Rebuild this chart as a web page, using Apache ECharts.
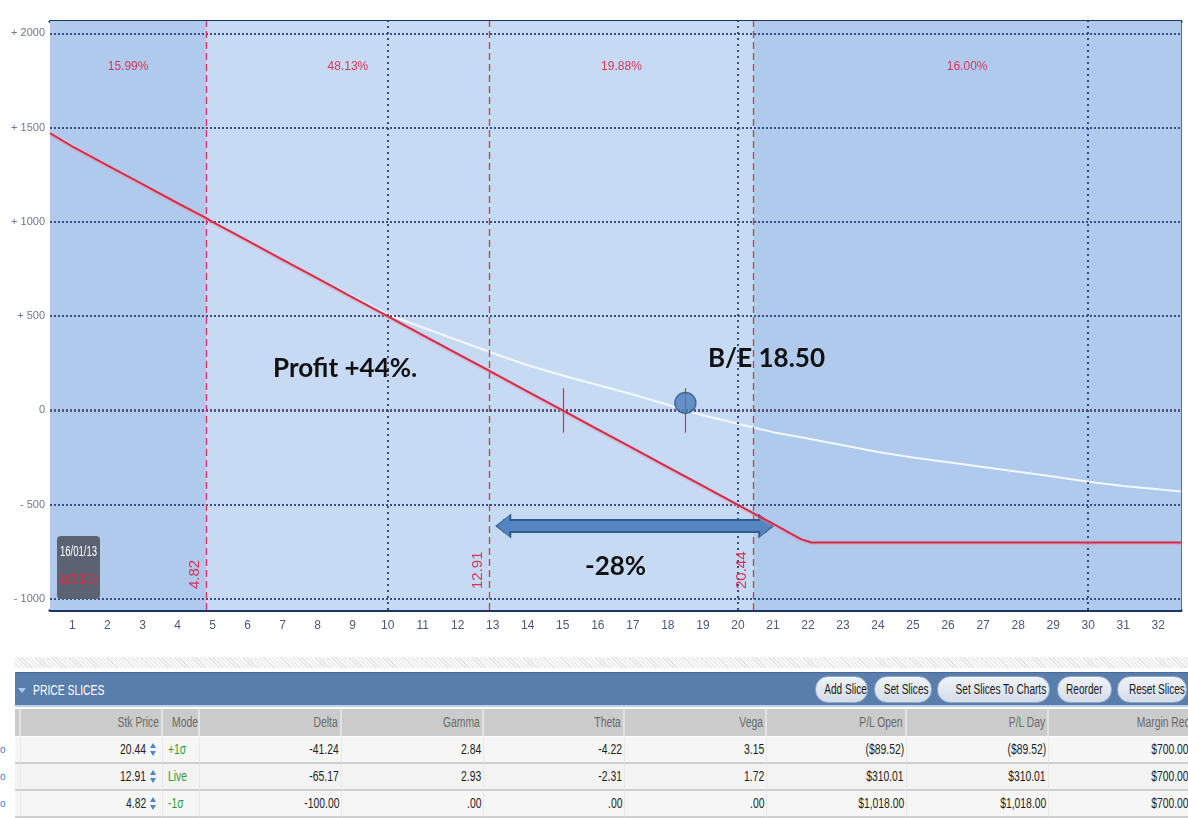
<!DOCTYPE html>
<html>
<head>
<meta charset="utf-8">
<script src="https://cdn.jsdelivr.net/npm/echarts@6/dist/echarts.min.js"></script>
<style>
  html, body { margin: 0; padding: 0; background: #ffffff; }
  body { width: 1188px; height: 818px; overflow: hidden; position: relative;
         font-family: "Liberation Sans", Arial, sans-serif; }
  #chart { position: absolute; left: 0; top: 0; width: 1188px; height: 650px; }
  .abs { position: absolute; box-sizing: border-box; white-space: nowrap; overflow: hidden; }
  .t { display: inline-block; transform: scaleX(0.74); transform-origin: right center; }
  #hatch { left: 15px; top: 657px; width: 1173px; height: 11px;
           background: repeating-linear-gradient(45deg, #e4e4e4 0 1px, #f8f8f8 1px 3px); }
  #bar { left: 15px; top: 672px; width: 1173px; height: 35px; background: #5a7eac;
         border-top: 1px solid #47689a; border-bottom: 2px solid #bcd2ea; }
  #barTitle { left: 33px; top: 680px; color: #ffffff; font-size: 14px; line-height: 20px; }
  #barTitle .t { transform-origin: left center; }
  #barTri { left: 18px; top: 688px; width: 0; height: 0; border-left: 4px solid transparent;
            border-right: 4px solid transparent; border-top: 5px solid #a9c9ef; overflow: visible; }
  .btn { top: 676px; height: 27px; border-radius: 13px; border: 1px solid #93a8c6;
         background: linear-gradient(#f0f4f9, #d3dce8); color: #1b1b1b; font-size: 14px;
         line-height: 25px; text-align: center; overflow: visible; }
  .btn .t { transform: scaleX(0.72); transform-origin: center center; }
  .hdr { background: #cbcbcb; color: #6a6a6a; font-size: 14px; line-height: 27px;
         border-right: 2px solid #e2e2e2; padding-right: 2px; text-align: right; }
  .cell { color: #1e1e1e; font-size: 14px; line-height: 25px; text-align: right; padding-right: 2px;
          border-right: 1px solid #e9e9e9; border-bottom: 2px solid #cfcfcf; }
  .cell.mode .t { transform-origin: left center; }
  .dot { color: #3f7fc8; font-size: 10px; line-height: 25px; overflow: visible; }
  .spin { width: 8px; height: 16px; overflow: visible; }
  .spin .u { position: absolute; left: 1px; top: 2px; width: 0; height: 0; border-left: 3px solid transparent;
             border-right: 3px solid transparent; border-bottom: 5px solid #4d86c6; }
  .spin .d { position: absolute; left: 1px; top: 10px; width: 0; height: 0; border-left: 3px solid transparent;
             border-right: 3px solid transparent; border-top: 5px solid #4d86c6; }
</style>
</head>
<body>
<div id="chart"></div>
<div id="table"></div>
<script>
// ---------------- DATA ----------------
const xTicks = [1,2,3,4,5,6,7,8,9,10,11,12,13,14,15,16,17,18,19,20,21,22,23,24,25,26,27,28,29,30,31,32];
const yTicks = [-1000,-500,0,500,1000,1500,2000];
const xGridLines = [10,20,30];
const sliceStrikes = [4.82, 12.91, 20.44];
const slicePct = ['15.99%','48.13%','19.88%','16.00%'];
// P/L at expiration (red)
const expiryPL = [[0.36,1470],[1,1400],[2,1300],[3,1200],[4,1100],[4.82,1020],[5,1000],[6,900],[7,800],[8,700],
  [9,600],[10,500],[11,400],[12,300],[12.91,210],[13,200],[14,100],[15,0],[16,-100],[17,-200],[18,-300],
  [19,-400],[20,-500],[20.44,-545],[21,-600],[21.5,-652],[21.8,-682],[22.1,-700],[24,-700],[28,-700],[32.65,-700]];
// P/L today (white)
const todayPL = [[0.36,1470],[2,1300],[4,1100],[6,900],[8,700],[9,605],[10,510],[11,440],[11.77,388],[12.91,310],
  [14,240],[15,185],[16,135],[17,85],[18,30],[18.5,0],[19,-25],[20,-70],[20.44,-90],[21,-115],[21.8,-142],
  [23,-185],[24,-220],[25,-250],[26,-275],[27,-300],[28,-325],[29,-350],[30,-378],[31,-400],[32,-418],[32.65,-430]];
const zeroMarks = [15, 18.5];
const breakEvenDot = [[18.5, 40]];
const rangeArrow = {from: 13.3, to: 20.81, y: -613};
const xRange = [0.36, 32.65];
const yRange = [-1058, 2065];
const annotations = ['Profit +44%.', 'B/E 18.50', '-28%'];
const dates = ['16/01/13', '16/03/13'];

// table data
const headers = ['Stk Price','Mode','Delta','Gamma','Theta','Vega','P/L Open','P/L Day','Margin Req'];
const stkPrice = ['20.44','12.91','4.82'];
const modes = ['+1σ','Live','-1σ'];
const deltas = ['-41.24','-65.17','-100.00'];
const gammas = ['2.84','2.93','.00'];
const thetas = ['-4.22','-2.31','.00'];
const vegas = ['3.15','1.72','.00'];
const plOpen = ['($89.52)','$310.01','$1,018.00'];
const plDay = ['($89.52)','$310.01','$1,018.00'];
const marginReq = ['$700.00','$700.00','$700.00'];
const buttons = ['Add Slice','Set Slices','Set Slices To Charts','Reorder','Reset Slices'];

// ---------------- CHART ----------------
const SANS = '"Liberation Sans", Arial, sans-serif';
const DARK_BG = '#b0caee', LIGHT_BG = '#c7daf4', RED = '#d12d4a', NAVY = '#1b3564', STRIKE = '#d8345a';

const bounds = [xRange[0]].concat(sliceStrikes, [xRange[1]]);
const bgColors = [DARK_BG, LIGHT_BG, LIGHT_BG, DARK_BG];
const areaData = slicePct.map((p, i) => [
  {xAxis: bounds[i], name: p, itemStyle: {color: bgColors[i], borderWidth: 0}},
  {xAxis: bounds[i + 1]}
]);

const chart = echarts.init(document.getElementById('chart'), null, {renderer: 'canvas'});
const ANN_FONT = 'bold 26px Lato, "Open Sans", sans-serif';
const option = {
  animation: false,
  grid: {left: 50, right: 7, top: 21, bottom: 40},
  xAxis: [{
    type: 'value', min: xRange[0], max: xRange[1], position: 'bottom',
    axisLine: {show: true, onZero: false, lineStyle: {color: NAVY, width: 3}},
    axisTick: {show: true, inside: true, length: 9, customValues: xTicks, lineStyle: {color: '#c8174a', width: 2}},
    axisLabel: {customValues: xTicks, color: '#4b5a78', fontSize: 12, margin: 10, fontFamily: SANS},
    splitLine: {show: false}
  }, {
    type: 'value', min: xRange[0], max: xRange[1], position: 'top',
    axisLine: {show: true, onZero: false, lineStyle: {color: NAVY, width: 3}},
    axisTick: {show: true, inside: true, length: 9, customValues: xTicks, lineStyle: {color: '#c8174a', width: 2}},
    axisLabel: {show: false}, splitLine: {show: false}
  }],
  yAxis: [{
    type: 'value', min: yRange[0], max: yRange[1], position: 'left',
    axisLine: {show: true, onZero: false, lineStyle: {color: '#23406e', width: 1}},
    axisTick: {show: false},
    axisLabel: {customValues: yTicks, color: '#6f7888', fontSize: 11, margin: 5, fontFamily: SANS,
      formatter: v => v > 0 ? '+ ' + v : (v < 0 ? '- ' + Math.abs(v) : '0')},
    splitLine: {show: false}
  }, {
    type: 'value', min: yRange[0], max: yRange[1], position: 'right',
    axisLine: {show: true, onZero: false, lineStyle: {color: '#23406e', width: 1.5}},
    axisTick: {show: false}, axisLabel: {show: false}, splitLine: {show: false}
  }],
  series: [
    { // background slices + percentages
      type: 'line', data: [], silent: true, z: 1,
      markArea: {silent: true, data: areaData,
        label: {show: true, position: 'insideTop', distance: 40, color: '#d23a56', fontSize: 12, fontFamily: SANS}}
    },
    { // dotted grid
      type: 'line', data: [], silent: true, z: 2,
      markLine: {silent: true, symbol: 'none', label: {show: false},
        data: yTicks.map(v => ({yAxis: v, lineStyle: v === 0
            ? {color: '#57537a', width: 3, type: [2, 2]}
            : {color: '#3d4f80', width: 2, type: [2, 2]}}))
          .concat(xGridLines.map(v => ({xAxis: v, lineStyle: {color: '#3b4a78', width: 2, type: [2, 4]}})))
      }
    },
    { // slice strike dashed lines
      type: 'line', data: [], silent: true, z: 3, color: STRIKE,
      markLine: {silent: true, symbol: 'none',
        lineStyle: {color: STRIKE, width: 1.3, type: [7, 4]},
        label: {show: true, position: 'insideStartTop', distance: [21, 4], color: STRIKE, fontSize: 15,
          fontFamily: SANS, formatter: p => String(p.value)},
        data: sliceStrikes.map(v => ({xAxis: v, lineStyle: {color: STRIKE, width: 1.3, type: [7, 4]}}))
      }
    },
    {
      name: 'today', type: 'line', data: todayPL, symbol: 'none', silent: true,
      lineStyle: {color: '#f3f8ff', width: 2}, z: 4
    },
    {
      name: 'expiry', type: 'line', data: expiryPL, symbol: 'none', silent: true,
      lineStyle: {color: RED, width: 2, shadowColor: 'rgba(240,140,160,0.8)', shadowBlur: 2, shadowOffsetY: 1}, z: 5,
      markLine: {silent: true, symbol: 'none', label: {show: false},
        lineStyle: {color: '#d8304a', width: 1.2, type: 'solid'},
        data: zeroMarks.map(v => [{coord: [v, -118]}, {coord: [v, 118]}])
      }
    },
    { // range arrow (outline)
      type: 'line', data: [], silent: true, z: 6,
      markLine: {silent: true, symbol: ['triangle', 'triangle'], symbolSize: [25, 16], label: {show: false},
        lineStyle: {color: '#2f5b8f', width: 14, type: 'solid', cap: 'butt'},
        data: [[{coord: [rangeArrow.from, rangeArrow.y]}, {coord: [rangeArrow.to, rangeArrow.y]}]]
      }
    },
    { // range arrow (fill)
      type: 'line', data: [], silent: true, z: 7,
      markLine: {silent: true, symbol: ['triangle', 'triangle'], symbolSize: [21, 12], label: {show: false},
        lineStyle: {color: '#5585c0', width: 10, type: 'solid', cap: 'butt'},
        data: [[{coord: [rangeArrow.from, rangeArrow.y]}, {coord: [rangeArrow.to, rangeArrow.y]}]]
      }
    },
    {
      type: 'scatter', data: breakEvenDot, symbolSize: 21, silent: true, z: 8,
      itemStyle: {color: '#4a7dba', borderColor: '#30598c', borderWidth: 1.5}
    }
  ],
  graphic: [
    {type: 'text', x: 273, y: 356, z: 100, style: {text: annotations[0], fill: '#111', font: ANN_FONT}},
    {type: 'text', x: 708, y: 346, z: 100, style: {text: annotations[1], fill: '#111', font: ANN_FONT}},
    {type: 'text', x: 585, y: 554, z: 100, style: {text: annotations[2], fill: '#111', font: ANN_FONT}},
    {type: 'rect', x: 57, y: 536, z: 100, shape: {width: 43, height: 63, r: 4}, style: {fill: '#5b6373'}},
    {type: 'text', x: 60, y: 545, z: 101, scaleX: 0.68, style: {text: dates[0], fill: '#ffffff', font: '14px ' + SANS}},
    {type: 'text', x: 60, y: 573, z: 101, scaleX: 0.68, style: {text: dates[1], fill: '#e8283f', font: '14px ' + SANS}}
  ]
};
chart.setOption(option);

// ---------------- TABLE ----------------
const T = document.getElementById('table');
function el(cls, css, html) {
  const d = document.createElement('div');
  d.className = 'abs ' + cls;
  d.style.cssText = css;
  if (html !== undefined) d.innerHTML = html;
  T.appendChild(d);
  return d;
}
const span = s => '<span class="t">' + s + '</span>';
el('', '', '').id = 'hatch';
el('', '', '').id = 'bar';
el('', '', '').id = 'barTri';
el('', '', span('PRICE SLICES')).id = 'barTitle';
const btnX = [815, 874, 937, 1057, 1117];
const btnW = [53, 58, 113, 55, 70];
buttons.forEach((b, i) => el('btn', `left:${btnX[i]}px;width:${btnW[i]}px;`, span(b)));

const colEdges = [15, 21, 163, 200, 342, 484, 625, 767, 907, 1049, 1192];
const hdrTop = 709, rowH = 27;
el('hdr', `left:15px;top:${hdrTop}px;width:6px;height:${rowH}px;`, '');
headers.forEach((h, i) => {
  const l = colEdges[i + 1], w = colEdges[i + 2] - l;
  el('hdr', `left:${l}px;top:${hdrTop}px;width:${w}px;height:${rowH}px;` + (i === 8 ? 'border-right:none;' : ''), span(h));
});
const columns = [stkPrice, modes, deltas, gammas, thetas, vegas, plOpen, plDay, marginReq];
const rowBg = ['#f6f6f6', '#f3f3f3', '#f6f6f6'];
for (let r = 0; r < 3; r++) {
  const top = hdrTop + rowH + r * rowH + 1;
  el('dot', `left:0px;top:${top}px;`, 'o');
  el('cell', `left:15px;top:${top}px;width:6px;height:${rowH}px;background:${rowBg[r]};`, '');
  columns.forEach((col, i) => {
    const l = colEdges[i + 1], w = colEdges[i + 2] - l;
    let css = `left:${l}px;top:${top}px;width:${w}px;height:${rowH}px;background:${rowBg[r]};`;
    let cls = 'cell';
    if (i === 0) css += 'padding-right:16px;';
    if (i === 1) { css += 'text-align:left;padding-left:5px;color:#2e9a3a;'; cls += ' mode'; }
    el(cls, css, span(col[r]));
    if (i === 0) el('spin', `left:${l + w - 14}px;top:${top + 4}px;`, '<div class="u"></div><div class="d"></div>');
  });
}
</script>
</body>
</html>
